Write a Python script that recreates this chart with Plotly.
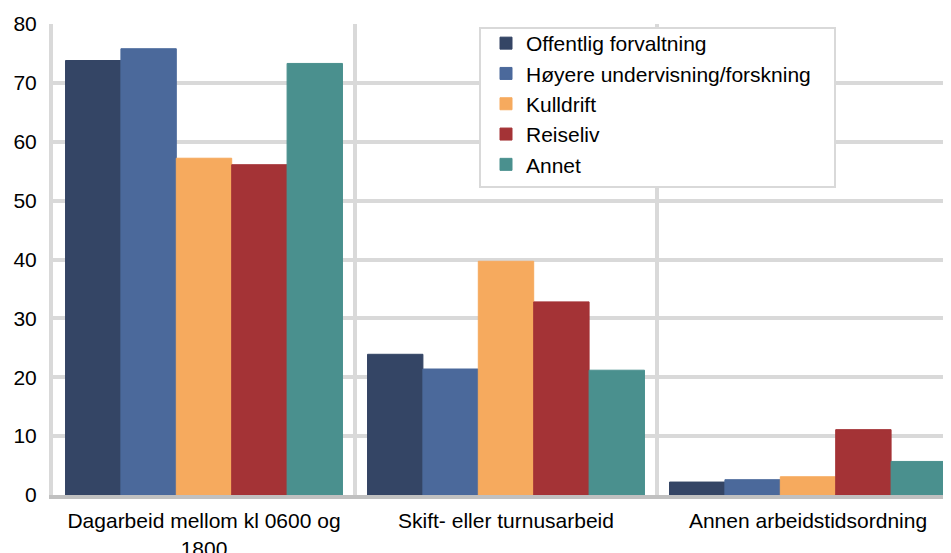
import plotly.graph_objects as go

categories = ["Dagarbeid mellom kl 0600 og<br>1800", "Skift- eller turnusarbeid", "Annen arbeidstidsordning"]
series_names = ["Offentlig forvaltning", "Høyere undervisning/forskning", "Kulldrift", "Reiseliv", "Annet"]
offentlig = [73.8, 23.9, 2.2]
hoyere = [75.8, 21.4, 2.6]
kulldrift = [57.2, 39.7, 3.1]
reiseliv = [56.1, 32.8, 11.1]
annet = [73.3, 21.2, 5.7]
y_ticks = [0, 10, 20, 30, 40, 50, 60, 70, 80]

series_values = [offentlig, hoyere, kulldrift, reiseliv, annet]
colors = ["#344565", "#4b699b", "#f6aa5e", "#a43336", "#4a908e"]

# page has an 8px body margin; design in page pixels, convert to figure pixels
OFF = 8
W, H = 951, 553
plot_left_page, plot_top_page, plot_bottom_page = 53, 24, 495
ml = plot_left_page - OFF
mt = plot_top_page - OFF
mb = H - (plot_bottom_page - OFF)
mr = 0
pw, ph = W - ml - mr, H - mt - mb
cat_px = 302.0

xpos = list(range(len(categories)))
fig = go.Figure()
for name, vals, c in zip(series_names, series_values, colors):
    fig.add_trace(go.Bar(x=xpos, y=vals, name=name,
                         marker=dict(color=c, line=dict(width=1, color=c))))

def px_x(p):
    return (p - OFF - ml) / pw

def px_y(p):
    return (H - mb - (p - OFF)) / ph

fig.add_shape(type="rect", xref="paper", yref="paper",
              x0=px_x(480), x1=px_x(835), y0=px_y(187), y1=px_y(28),
              line=dict(color="#d9d9d9", width=2), fillcolor="white", layer="above")

fig.update_layout(
    width=W, height=H,
    margin=dict(l=ml, r=mr, t=mt, b=mb, pad=0, autoexpand=False),
    paper_bgcolor="white", plot_bgcolor="white",
    barmode="group", bargap=0.083, bargroupgap=0,
    font=dict(family="Liberation Sans, Arial, sans-serif", size=21, color="#000000"),
    legend=dict(x=px_x(486), y=px_y(23), xanchor="left", yanchor="top",
                bgcolor="rgba(0,0,0,0)", borderwidth=0,
                font=dict(size=21), itemwidth=30, traceorder="normal"),
    showlegend=True,
)
fig.update_xaxes(
    range=[-0.5, -0.5 + pw / cat_px],
    tickmode="array", tickvals=xpos, ticktext=categories,
    showgrid=False, zeroline=False, automargin=False,
    showline=True, linecolor="#c0c0c0", linewidth=4,
    ticks="", ticklabelstandoff=4,
    minor=dict(tickmode="array", tickvals=[-0.5, 0.5, 1.5, 2.5], showgrid=True,
               gridcolor="#d9d9d9", gridwidth=4, ticks=""),
    fixedrange=True,
)
fig.update_yaxes(
    range=[0, 80], tickmode="array", tickvals=y_ticks,
    showgrid=True, gridcolor="#d9d9d9", gridwidth=4,
    zeroline=False, showline=True, linecolor="#d9d9d9", linewidth=4,
    ticks="", ticklabelstandoff=8, automargin=False,
    fixedrange=True,
)

fig.write_html("out.html")
